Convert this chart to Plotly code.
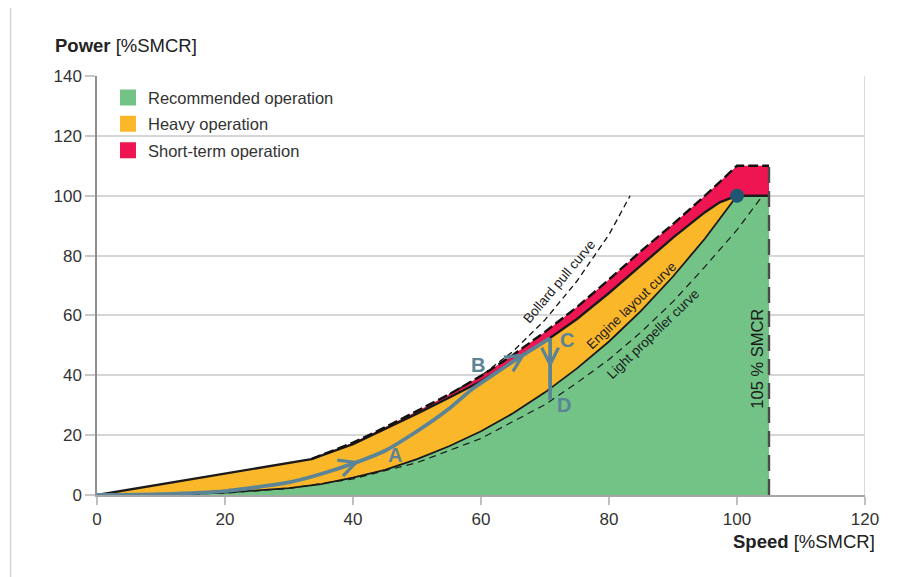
import plotly.graph_objects as go

# ---------------- data ----------------
# upper limit (dashed) of short-term operation
top_x = [0, 33.5, 40, 45, 50, 55, 60, 65, 70, 75, 80, 85, 90, 95, 100, 105]
top_y = [0, 12, 17.5, 22.6, 28, 33.6, 39.8, 46.8, 54.5, 62.8, 72, 81.5, 90.5, 100, 110, 110]

# upper limit of heavy operation (solid)
heavy_x = [0, 33.5, 40, 45, 50, 55, 60, 65, 70, 75, 80, 85, 90, 95, 97.3, 100, 105]
heavy_y = [0, 12, 17, 22, 27.2, 32.5, 38, 44.5, 51.3, 58.8, 67.5, 76.7, 86, 94.5, 97.8, 100, 100]

# engine layout curve
eng_x = [0, 10, 20, 30, 35, 40, 45, 50, 55, 60, 65, 70, 75, 80, 85, 90, 95, 100]
eng_y = [0, 0.1, 0.8, 2.3, 3.6, 5.8, 8.4, 12, 16.3, 21.3, 27.3, 34.3, 42.3, 51.3, 61.5, 73, 85.7, 100]

# light propeller curve
prop_x = [0, 10, 20, 30, 40, 50, 60, 70, 75, 80, 85, 90, 95, 100, 104]
prop_y = [0, 0.1, 0.6, 2.2, 5.4, 10.8, 18.9, 30.2, 37.5, 45.3, 54.4, 64.6, 76.3, 88.6, 100]

# bollard pull curve
bol_x = [55, 60, 65, 70, 75, 80, 83.3]
bol_y = [33.6, 39.8, 48, 58.5, 71.5, 87, 100]

# 105 % SMCR speed limit
lim_x = [105, 105]
lim_y = [0, 110]

# operating path A -> B -> C, then C -> D
path_x = [0, 10, 20, 30, 35, 40, 45, 50, 55, 58.5, 62, 66, 70.8]
path_y = [0, 0.3, 1.3, 4.2, 7, 10.5, 14.8, 21.3, 28.8, 35.2, 40.3, 46, 52.4]
cd_x = [70.8, 70.8]
cd_y = [52.4, 31.8]

# direction arrows on the path (head and a point just before it)
arrow_x = [41, 67, 70.8]
arrow_y = [11.3, 47.3, 42.4]
arrow_tail_x = [37.5, 64, 70.8]
arrow_tail_y = [8.6, 43.3, 47]

point_labels = ["A", "B", "C", "D"]
label_x = [46.6, 59.6, 73.4, 72.9]
label_y = [13.2, 43.4, 51.7, 30.1]

smcr_x = [100]
smcr_y = [100]

legend_names = ["Recommended operation", "Heavy operation", "Short-term operation"]

x_ticks = [0, 20, 40, 60, 80, 100, 120]
y_ticks = [0, 20, 40, 60, 80, 100, 120, 140]

# ---------------- styles ----------------
GREEN = "#73C387"
ORANGE = "#FBB72A"
RED = "#EE1552"
PATH = "#5B8496"
DOT = "#1F5673"
FONT = "Liberation Sans, Arial, Helvetica, sans-serif"

fig = go.Figure()

# green: below engine layout curve up to 105 %
green_x = eng_x + [105, 105]
green_y = eng_y + [100, 0]
fig.add_trace(go.Scatter(x=green_x, y=green_y, fill="toself", fillcolor=GREEN,
                         mode="lines", line=dict(width=0), showlegend=False, hoverinfo="skip"))

# orange: between engine layout curve and heavy limit
ho_x = heavy_x[:-1] + eng_x[::-1]
ho_y = heavy_y[:-1] + eng_y[::-1]
fig.add_trace(go.Scatter(x=ho_x, y=ho_y, fill="toself", fillcolor=ORANGE,
                         mode="lines", line=dict(width=0), showlegend=False, hoverinfo="skip"))

# red: between heavy limit and dashed upper limit
r_x = top_x + heavy_x[::-1]
r_y = top_y + heavy_y[::-1]
fig.add_trace(go.Scatter(x=r_x, y=r_y, fill="toself", fillcolor=RED,
                         mode="lines", line=dict(width=0), showlegend=False, hoverinfo="skip"))

# curves
fig.add_trace(go.Scatter(x=prop_x, y=prop_y, mode="lines",
                         line=dict(color="#1a1a1a", width=1.2, dash="7px,5px"),
                         showlegend=False, hoverinfo="skip"))
fig.add_trace(go.Scatter(x=eng_x, y=eng_y, mode="lines",
                         line=dict(color="#1a1a1a", width=1.8),
                         showlegend=False, hoverinfo="skip"))
fig.add_trace(go.Scatter(x=heavy_x, y=heavy_y, mode="lines",
                         line=dict(color="#1a1a1a", width=2.4),
                         showlegend=False, hoverinfo="skip"))
fig.add_trace(go.Scatter(x=top_x[1:], y=top_y[1:], mode="lines",
                         line=dict(color="#111111", width=2.4, dash="10px,4px"),
                         showlegend=False, hoverinfo="skip"))
fig.add_trace(go.Scatter(x=bol_x, y=bol_y, mode="lines",
                         line=dict(color="#111111", width=1.3, dash="6px,4px"),
                         showlegend=False, hoverinfo="skip"))
fig.add_trace(go.Scatter(x=lim_x, y=lim_y, mode="lines",
                         line=dict(color="#4a4a4a", width=2.4, dash="16px,8px"),
                         showlegend=False, hoverinfo="skip"))

# operating path
fig.add_trace(go.Scatter(x=path_x, y=path_y, mode="lines",
                         line=dict(color=PATH, width=3.8, shape="spline", smoothing=0.5),
                         showlegend=False, hoverinfo="skip"))
fig.add_trace(go.Scatter(x=cd_x, y=cd_y, mode="lines",
                         line=dict(color=PATH, width=3.8),
                         showlegend=False, hoverinfo="skip"))

# SMCR point
fig.add_trace(go.Scatter(x=smcr_x, y=smcr_y, mode="markers",
                         marker=dict(size=14, color=DOT),
                         showlegend=False, hoverinfo="skip", cliponaxis=False))

# legend entries
for name, col in zip(legend_names, [GREEN, ORANGE, RED]):
    fig.add_trace(go.Scatter(x=[None], y=[None], mode="markers", name=name,
                             legendgroup=name,
                             marker=dict(symbol="square", size=16, color=col)))

annotations = []
for hx, hy, tx, ty in zip(arrow_x, arrow_y, arrow_tail_x, arrow_tail_y):
    annotations.append(dict(x=hx, y=hy, ax=tx, ay=ty, xref="x", yref="y", axref="x", ayref="y",
                            text="", showarrow=True, arrowhead=5, arrowsize=1.1,
                            arrowwidth=3, arrowcolor=PATH, standoff=0, startstandoff=0))

for t, x, y in zip(point_labels, label_x, label_y):
    annotations.append(dict(x=x, y=y, xref="x", yref="y", text="<b>" + t + "</b>",
                            showarrow=False, font=dict(size=20, color=PATH, family=FONT)))

annotations += [
    dict(x=72.2, y=71.5, xref="x", yref="y", text="Bollard pull curve", textangle=-50,
         showarrow=False, font=dict(size=13.5, color="#1a1a1a", family=FONT)),
    dict(x=83.5, y=63.4, xref="x", yref="y", text="Engine layout curve", textangle=-44,
         showarrow=False, font=dict(size=13.5, color="#1a1a1a", family=FONT)),
    dict(x=86.8, y=53.7, xref="x", yref="y", text="Light propeller curve", textangle=-44,
         showarrow=False, font=dict(size=13.5, color="#1a1a1a", family=FONT)),
    dict(x=103.2, y=45.7, xref="x", yref="y", text="105 % SMCR", textangle=-90,
         showarrow=False, font=dict(size=16.5, color="#1a1a1a", family=FONT)),
    dict(x=-0.0573, y=1.0726, xref="paper", yref="paper", xanchor="left", yanchor="middle",
         text="<b>Power</b> [%SMCR]", showarrow=False,
         font=dict(size=18.5, color="#222222", family=FONT)),
    dict(x=1.0156, y=-0.11, xref="paper", yref="paper", xanchor="right", yanchor="middle",
         text="<b>Speed</b> [%SMCR]", showarrow=False,
         font=dict(size=18.5, color="#222222", family=FONT)),
]

shapes = [
    # right frame line of plot area
    dict(type="line", xref="x", yref="paper", x0=120, x1=120, y0=0, y1=1,
         line=dict(color="#cccccc", width=1.5), layer="below"),
    # outer image frame
    dict(type="rect", xref="paper", yref="paper", x0=-0.1126, x1=1.0495, y0=-0.3, y1=1.1655,
         line=dict(color="#d4d4d4", width=1.5), layer="below"),
]

fig.update_layout(
    width=909, height=577,
    margin=dict(l=89, r=52, t=67.5, b=89.5),
    paper_bgcolor="white", plot_bgcolor="white",
    font=dict(family=FONT, color="#333333"),
    showlegend=True,
    legend=dict(x=0.0143, y=0.99, xanchor="left", yanchor="top",
                bgcolor="rgba(0,0,0,0)", borderwidth=0,
                font=dict(size=16.5, color="#333333", family=FONT),
                traceorder="grouped", tracegroupgap=2, itemsizing="trace"),
    annotations=annotations,
    shapes=shapes,
    xaxis=dict(range=[0, 120], tickvals=x_ticks, showgrid=False, zeroline=False,
               showline=True, linecolor="#a6a6a6", linewidth=2,
               ticks="outside", ticklen=8, tickcolor="#c0c0c0", tickwidth=1.5,
               tickfont=dict(size=17, color="#333333", family=FONT)),
    yaxis=dict(range=[0, 140], tickvals=y_ticks, showgrid=True, gridcolor="#d6d6d6",
               gridwidth=1.5, zeroline=False,
               showline=True, linecolor="#8f8f8f", linewidth=1.5,
               ticks="outside", ticklen=10, tickcolor="#c8c8c8", tickwidth=1.5,
               tickfont=dict(size=17, color="#333333", family=FONT)),
)

fig.write_html("out.html")
